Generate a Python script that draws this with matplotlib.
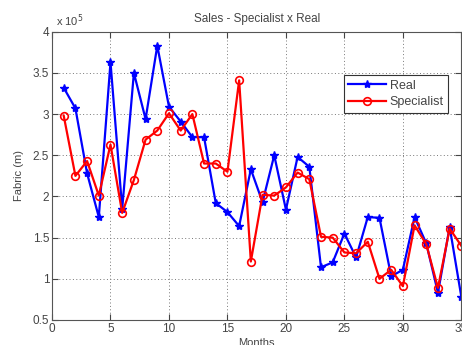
import numpy as np
import matplotlib
matplotlib.use("Agg")
import matplotlib.pyplot as plt

# data (in units of 1e5 m)
months = np.arange(1, 36)
real = [3.32, 3.07, 2.28, 1.75, 3.63, 1.85, 3.50, 2.94, 3.83, 3.09,
        2.91, 2.72, 2.72, 1.92, 1.81, 1.64, 2.33, 1.93, 2.50, 1.84,
        2.48, 2.36, 1.14, 1.20, 1.55, 1.26, 1.75, 1.74, 1.03, 1.11,
        1.75, 1.43, 0.83, 1.63, 0.78]
specialist = [2.98, 2.25, 2.43, 2.01, 2.63, 1.80, 2.20, 2.69, 2.80, 3.01,
              2.80, 3.00, 2.40, 2.40, 2.30, 3.41, 1.21, 2.02, 2.01, 2.11,
              2.29, 2.21, 1.51, 1.50, 1.32, 1.31, 1.45, 1.00, 1.11, 0.91,
              1.65, 1.42, 0.89, 1.61, 1.40]

plt.rcParams['font.family'] = ['Liberation Sans', 'DejaVu Sans']
txt = '#444444'

fig = plt.figure(figsize=(4.62, 3.45), dpi=100)
ax = fig.add_axes([0.1126, 0.0725, 0.886, 0.8355])

ax.plot(months, real, color='blue', lw=1.6, marker='*', ms=6, label='Real')
ax.plot(months, specialist, color='red', lw=1.6, marker='o', ms=5.5,
        mfc='none', mew=1.2, label='Specialist')

ax.set_xlim(0, 35)
ax.set_ylim(0.5, 4)
ax.set_xticks(np.arange(0, 36, 5))
ax.set_yticks(np.arange(0.5, 4.01, 0.5))
ax.set_yticklabels(['0.5', '1', '1.5', '2', '2.5', '3', '3.5', '4'])

ax.grid(True, color='#777777', linestyle=(0, (1, 2.5)), linewidth=0.7)
ax.tick_params(direction='in', top=True, right=True, labelsize=8.5,
               colors=txt, length=4, pad=2)
for s in ax.spines.values():
    s.set_color('#555555')
    s.set_linewidth(0.8)

ax.set_title('Sales - Specialist x Real', fontsize=8.5, color=txt, pad=7)
ax.set_xlabel('Months', fontsize=8, color=txt, labelpad=2)
ax.set_ylabel('Fabric (m)', fontsize=8, color=txt, labelpad=6)
ax.text(0.01, 1.01, r'x 10$^5$', transform=ax.transAxes, fontsize=8,
        color=txt, ha='left', va='bottom')

leg = ax.legend(loc='upper right', bbox_to_anchor=(0.983, 0.87), fontsize=9,
                fancybox=False, framealpha=1, edgecolor='#333333',
                borderpad=0.35, handlelength=3, labelspacing=0.35,
                handletextpad=0.3)
leg.get_frame().set_linewidth(0.8)
for t in leg.get_texts():
    t.set_color(txt)

plt.savefig("out.png", dpi=100)
